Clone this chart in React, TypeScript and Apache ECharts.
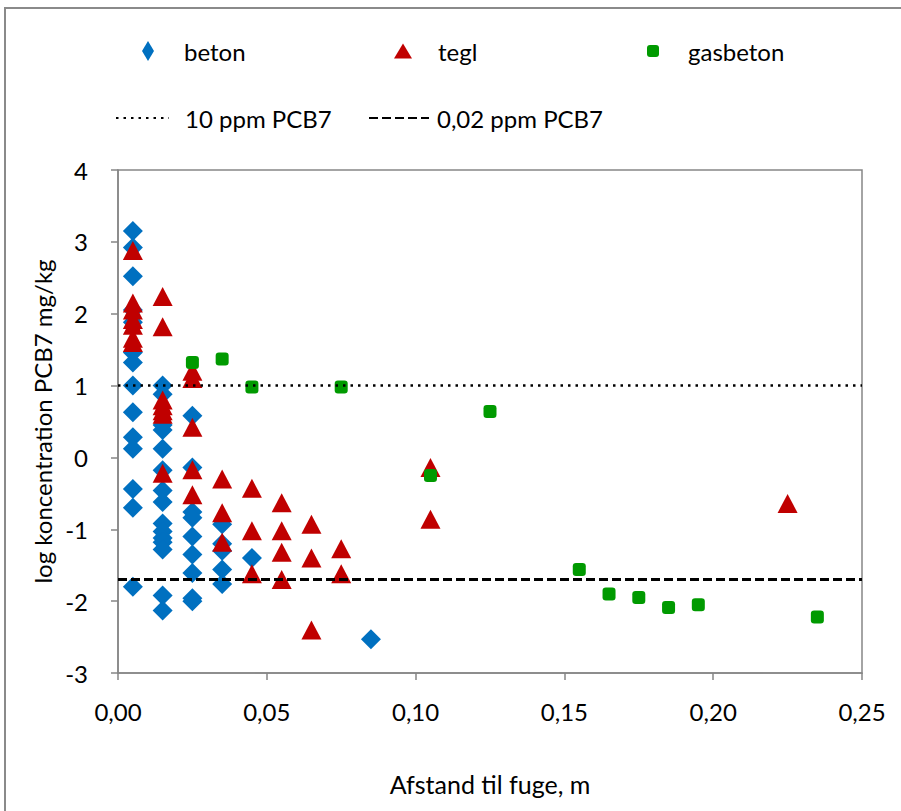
import React, { useEffect, useRef } from "react";
import * as echarts from "echarts";

// x: distance to joint (m), y: log concentration PCB7 mg/kg
const betonPoints: [number, number][] = [
  [0.005, 3.15], [0.005, 2.92], [0.005, 2.52], [0.005, 2.05], [0.005, 1.88],
  [0.005, 1.46], [0.005, 1.32], [0.005, 1.0], [0.005, 0.63], [0.005, 0.28],
  [0.005, 0.12], [0.005, -0.44], [0.005, -0.7], [0.005, -1.8],
  [0.015, 1.0], [0.015, 0.88], [0.015, 0.45], [0.015, 0.38], [0.015, 0.12],
  [0.015, -0.18], [0.015, -0.46], [0.015, -0.62], [0.015, -0.92], [0.015, -1.03],
  [0.015, -1.12], [0.015, -1.18], [0.015, -1.28], [0.015, -1.92], [0.015, -2.13],
  [0.025, 0.58], [0.025, -0.14], [0.025, -0.76], [0.025, -0.84], [0.025, -1.1],
  [0.025, -1.35], [0.025, -1.61], [0.025, -1.96], [0.025, -2.0],
  [0.035, -0.93], [0.035, -1.2], [0.035, -1.3], [0.035, -1.56], [0.035, -1.76],
  [0.045, -1.4],
  [0.085, -2.53],
];

const teglPoints: [number, number][] = [
  [0.005, 2.88], [0.005, 2.15], [0.005, 2.05], [0.005, 1.92], [0.005, 1.84],
  [0.005, 1.66], [0.005, 1.6],
  [0.015, 2.24], [0.015, 1.82], [0.015, 0.8], [0.015, 0.72], [0.015, 0.65],
  [0.015, 0.6], [0.015, -0.22],
  [0.025, 1.2], [0.025, 1.1], [0.025, 0.42], [0.025, -0.17], [0.025, -0.52],
  [0.035, -0.3], [0.035, -0.77], [0.035, -1.18],
  [0.045, -0.43], [0.045, -1.02], [0.045, -1.62],
  [0.055, -0.63], [0.055, -1.02], [0.055, -1.32], [0.055, -1.7],
  [0.065, -0.93], [0.065, -1.4], [0.065, -2.4],
  [0.075, -1.27], [0.075, -1.62],
  [0.105, -0.14], [0.105, -0.86],
  [0.225, -0.64],
];

const gasbetonPoints: [number, number][] = [
  [0.025, 1.32], [0.035, 1.37], [0.045, 0.98], [0.075, 0.98],
  [0.105, -0.25], [0.125, 0.64],
  [0.155, -1.56], [0.165, -1.9], [0.175, -1.95], [0.185, -2.09],
  [0.195, -2.05], [0.235, -2.22],
];

const refNames = ["10 ppm PCB7", "0,02 ppm PCB7"];
const refValues = [1, -1.699];
const xRange = [0, 0.25];

export default function App() {
  const ref = useRef<HTMLDivElement>(null);
  useEffect(() => {
    const chart = echarts.init(ref.current!, null, { renderer: "svg" });
    const font = "Lato, 'Noto Sans', sans-serif";
    const textStyle = (pad: number) => ({
      fontFamily: font,
      fontSize: 24,
      color: "#000",
      padding: [0, 0, 0, pad],
    });
    const leg = (
      name: string,
      left: number,
      top: number,
      w: number,
      h: number,
      pad: number,
      hideSymbol?: boolean
    ) => ({
      data: [name],
      left,
      top,
      itemWidth: w,
      itemHeight: h,
      padding: 0,
      symbolKeepAspect: false,
      selectedMode: false,
      textStyle: textStyle(pad),
      ...(hideSymbol ? { itemStyle: { opacity: 0 } } : {}),
    });
    chart.setOption({
      animation: false,
      backgroundColor: "#fff",
      graphic: [
        {
          type: "rect",
          shape: { x: 5, y: 8, width: 1000, height: 1000 },
          style: { fill: "none", stroke: "#8a8a8a", lineWidth: 2 },
          silent: true,
        },
      ],
      legend: [
        leg("beton", 142, 39, 12, 20, 25),
        leg("tegl", 394, 39, 18, 15, 21),
        leg("gasbeton", 647, 39, 12, 12, 24),
        leg(refNames[0], 115, 106, 53, 10, 11, true),
        leg(refNames[1], 368, 106, 60, 10, 3, true),
      ],
      grid: {
        left: 118,
        right: 39,
        top: 170,
        bottom: 138,
        show: true,
        borderColor: "#868686",
        borderWidth: 1.5,
      },
      xAxis: {
        type: "value",
        min: xRange[0],
        max: xRange[1],
        interval: 0.05,
        axisLine: { show: true, onZero: false, lineStyle: { color: "#868686", width: 1.5 } },
        axisTick: { show: true, inside: false, length: 7, lineStyle: { color: "#868686", width: 1.5 } },
        splitLine: { show: false },
        axisLabel: {
          formatter: (v: number) => v.toFixed(2).replace(".", ","),
          color: "#000",
          fontSize: 24,
          fontFamily: font,
          margin: 26,
        },
        name: "Afstand til fuge, m",
        nameLocation: "middle",
        nameGap: 98,
        nameTextStyle: { color: "#000", fontSize: 25, fontFamily: font },
      },
      yAxis: {
        type: "value",
        min: -3,
        max: 4,
        interval: 1,
        axisLine: { show: true, onZero: false, lineStyle: { color: "#868686", width: 1.5 } },
        axisTick: { show: true, inside: false, length: 7, lineStyle: { color: "#868686", width: 1.5 } },
        splitLine: { show: false },
        axisLabel: { color: "#000", fontSize: 24, fontFamily: font, margin: 30 },
        name: "log koncentration PCB7 mg/kg",
        nameLocation: "middle",
        nameGap: 61,
        nameTextStyle: { color: "#000", fontSize: 24, fontFamily: font },
      },
      series: [
        {
          name: refNames[0],
          type: "line",
          symbol: "none",
          data: [[xRange[0], refValues[0]], [xRange[1], refValues[0]]],
          lineStyle: { color: "#000", width: 2.5, type: [2.5, 5] },
          itemStyle: { color: "#000" },
          silent: true,
        },
        {
          name: refNames[1],
          type: "line",
          symbol: "none",
          data: [[xRange[0], refValues[1]], [xRange[1], refValues[1]]],
          lineStyle: { color: "#000", width: 3, type: [9, 4] },
          itemStyle: { color: "#000" },
          silent: true,
        },
        {
          name: "beton",
          type: "scatter",
          symbol: "diamond",
          symbolSize: 20,
          data: betonPoints,
          itemStyle: { color: "#0070C0", opacity: 1 },
        },
        {
          name: "tegl",
          type: "scatter",
          symbol: "triangle",
          symbolSize: [20, 19],
          data: teglPoints,
          itemStyle: { color: "#C00000", opacity: 1 },
        },
        {
          name: "gasbeton",
          type: "scatter",
          symbol: "roundRect",
          symbolSize: 13,
          data: gasbetonPoints,
          itemStyle: { color: "#009A00", opacity: 1 },
        },
      ],
    });
    return () => chart.dispose();
  }, []);
  return (
    <div
      ref={ref}
      style={{ position: "fixed", left: 0, top: 0, width: 901, height: 811 }}
    />
  );
}
